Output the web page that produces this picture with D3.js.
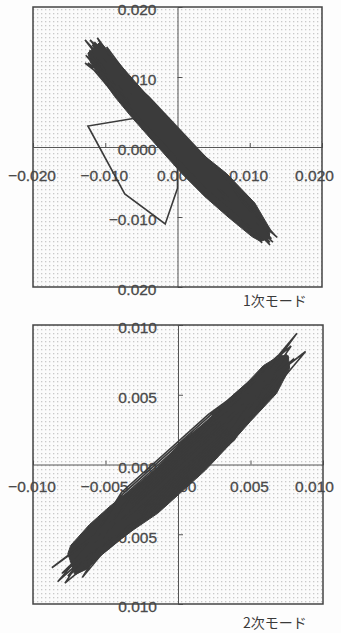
<!DOCTYPE html>
<html>
<head>
<meta charset="utf-8">
<script src="https://cdn.jsdelivr.net/npm/d3@7"></script>
<style>
    body { margin: 0; background: #fdfdfd; }
    svg { display: block; }
</style>
</head>
<body>
<svg id="chart"></svg>
<script>
// Mode 1 trajectory (start transient, then the oscillation band)
const mode1Points = [
    [0, 0], [0.0000, -0.0059], [-0.0017, -0.0110], [-0.0073, -0.0067], [-0.0124, 0.0030], [-0.0059, 0.0041],
    [-0.0124, 0.0120],
    [-0.0046, 0.0066], [0.0054, -0.0044], [0.0105, -0.0110],
    [0.0045, -0.0053], [-0.0055, 0.0057], [-0.0100, 0.0120],
    [-0.0042, 0.0070], [0.0058, -0.0040], [0.0110, -0.0118],
    [0.0041, -0.0057], [-0.0059, 0.0053], [-0.0110, 0.0128],
    [-0.0048, 0.0064], [0.0052, -0.0046], [0.0119, -0.0122],
    [0.0048, -0.0050], [-0.0052, 0.0060], [-0.0113, 0.0133],
    [-0.0044, 0.0068], [0.0056, -0.0042], [0.0125, -0.0125],
    [0.0043, -0.0055], [-0.0057, 0.0055], [-0.0115, 0.0140],
    [-0.0040, 0.0072], [0.0060, -0.0038], [0.0121, -0.0130],
    [0.0040, -0.0058], [-0.0060, 0.0052], [-0.0127, 0.0131],
    [-0.0047, 0.0065], [0.0053, -0.0045], [0.0128, -0.0136],
    [0.0046, -0.0052], [-0.0054, 0.0058], [-0.0118, 0.0146],
    [-0.0043, 0.0069], [0.0057, -0.0041], [0.0130, -0.0131],
    [0.0044, -0.0054], [-0.0056, 0.0056], [-0.0128, 0.0153],
    [-0.0049, 0.0063], [0.0051, -0.0047], [0.0138, -0.0129],
    [0.0049, -0.0049], [-0.0051, 0.0061], [-0.0121, 0.0153],
    [-0.0041, 0.0071], [0.0059, -0.0039], [0.0135, -0.0126],
    [0.0042, -0.0056], [-0.0058, 0.0054], [-0.0107, 0.0150],
    [-0.0045, 0.0067], [0.0055, -0.0043], [0.0117, -0.0137],
    [0.0047, -0.0051], [-0.0053, 0.0059], [-0.0128, 0.0120],
    [-0.0052, 0.0060], [0.0048, -0.0050], [0.0132, -0.0136],
    [0.0053, -0.0045], [-0.0047, 0.0065], [-0.0111, 0.0156],
    [-0.0056, 0.0056], [0.0044, -0.0054], [0.0124, -0.0130],
    [0.0056, -0.0042], [-0.0044, 0.0068], [-0.0098, 0.0143],
    [-0.0059, 0.0053], [0.0041, -0.0057], [0.0118, -0.0123],
    [0.0059, -0.0039], [-0.0041, 0.0071], [-0.0115, 0.0150],
    [-0.0054, 0.0058], [0.0046, -0.0052], [0.0128, -0.0140],
    [0.0055, -0.0043], [-0.0045, 0.0067], [-0.0122, 0.0138],
    [-0.0058, 0.0054], [0.0042, -0.0056], [0.0110, -0.0119],
    [0.0052, -0.0046], [-0.0048, 0.0064], [-0.0105, 0.0135],
    [-0.0050, 0.0062], [0.0050, -0.0048], [0.0100, -0.0100],
    [0.0051, -0.0047], [-0.0049, 0.0063], [-0.0090, 0.0105]
];

// Outline of the area that the dense mode 1 trace fills
const mode1Band = [
    [-0.0107, 0.0150], [-0.0061, 0.0096], [-0.0020, 0.0048], [0.0001, 0.0024], [0.0022, 0.0000],
    [0.0068, -0.0038], [0.0107, -0.0080], [0.0128, -0.0117], [0.0127, -0.0130],
    [0.0115, -0.0135], [0.0103, -0.0128], [0.0070, -0.0100], [0.0038, -0.0071], [0.0006, -0.0038],
    [-0.0027, 0.0000], [-0.0063, 0.0042], [-0.0087, 0.0072], [-0.0120, 0.0120], [-0.0124, 0.0134]
];

// Mode 2 trajectory
const mode2Points = [
    [0, 0], [0.0027, 0.0030], [0.0054, 0.0058],
    [0.0034, 0.0023], [-0.0026, -0.0033], [-0.0055, -0.0058],
    [-0.0036, -0.0023], [0.0024, 0.0033], [0.0060, 0.0063],
    [0.0037, 0.0020], [-0.0023, -0.0036], [-0.0064, -0.0062],
    [-0.0039, -0.0020], [0.0021, 0.0036], [0.0066, 0.0070],
    [0.0039, 0.0018], [-0.0021, -0.0038], [-0.0060, -0.0068],
    [-0.0032, -0.0027], [0.0028, 0.0029], [0.0072, 0.0074],
    [0.0032, 0.0025], [-0.0028, -0.0031], [-0.0072, -0.0070],
    [-0.0035, -0.0024], [0.0025, 0.0032], [0.0075, 0.0079],
    [0.0035, 0.0022], [-0.0025, -0.0034], [-0.0070, -0.0077],
    [-0.0038, -0.0021], [0.0022, 0.0035], [0.0078, 0.0085],
    [0.0036, 0.0021], [-0.0024, -0.0035], [-0.0080, -0.0078],
    [-0.0031, -0.0028], [0.0029, 0.0028], [0.0082, 0.0094],
    [0.0033, 0.0024], [-0.0027, -0.0032], [-0.0083, -0.0084],
    [-0.0034, -0.0025], [0.0026, 0.0031], [0.0088, 0.0081],
    [0.0038, 0.0019], [-0.0022, -0.0037], [-0.0078, -0.0085],
    [-0.0037, -0.0022], [0.0023, 0.0034], [0.0069, 0.0078],
    [0.0031, 0.0026], [-0.0029, -0.0030], [-0.0087, -0.0074],
    [-0.0030, -0.0029], [0.0030, 0.0027], [0.0063, 0.0060],
    [0.0027, 0.0030], [-0.0033, -0.0026], [-0.0066, -0.0081],
    [-0.0027, -0.0032], [0.0033, 0.0024], [0.0070, 0.0072],
    [0.0024, 0.0033], [-0.0036, -0.0023], [-0.0068, -0.0066],
    [-0.0024, -0.0035], [0.0036, 0.0021], [0.0074, 0.0070],
    [0.0021, 0.0036], [-0.0039, -0.0020], [-0.0062, -0.0072],
    [-0.0021, -0.0038], [0.0039, 0.0018], [0.0066, 0.0064],
    [0.0025, 0.0032], [-0.0035, -0.0024], [-0.0074, -0.0072],
    [-0.0025, -0.0034], [0.0035, 0.0022], [0.0080, 0.0076],
    [0.0028, 0.0029], [-0.0032, -0.0027], [-0.0076, -0.0080],
    [-0.0022, -0.0037], [0.0038, 0.0019], [0.0071, 0.0066],
    [0.0022, 0.0035], [-0.0038, -0.0021], [-0.0058, -0.0060],
    [-0.0028, -0.0031], [0.0032, 0.0025], [0.0058, 0.0056],
    [0.0026, 0.0031], [-0.0034, -0.0025], [-0.0050, -0.0052],
    [-0.0026, -0.0033], [0.0034, 0.0023], [0.0050, 0.0047],
    [0.0029, 0.0028], [-0.0031, -0.0028], [-0.0045, -0.0046],
    [0.0042, 0.0036]
];

// Outline of the area that the dense mode 2 trace fills
const mode2Band = [
    [-0.0076, -0.0064], [-0.0074, -0.0058], [-0.0061, -0.0043], [-0.0047, -0.0030], [-0.0031, -0.0017],
    [-0.0014, -0.0002], [0.0003, 0.0017], [0.0020, 0.0031], [0.0034, 0.0046], [0.0048, 0.0059],
    [0.0059, 0.0071], [0.0070, 0.0078], [0.0076, 0.0078],
    [0.0077, 0.0069], [0.0068, 0.0051], [0.0050, 0.0031], [0.0038, 0.0017],
    [0.0019, -0.0004], [0.0001, -0.0021], [-0.0014, -0.0035], [-0.0031, -0.0047], [-0.0040, -0.0054],
    [-0.0054, -0.0066], [-0.0063, -0.0075], [-0.0071, -0.0079]
];

// Axis ticks and labels (as printed)
const mode1Domain = [-0.02, 0.02];
const mode1XTicks = [-0.02, -0.01, 0, 0.01, 0.02];
const mode1XLabels = ["−0.020", "−0.010", "0.000", "0.010", "0.020"];
const mode1YTicks = [0.02, 0.01, 0, -0.01, -0.02];
const mode1YLabels = ["0.020", "0.010", "0.000", "−0.010", "0.020"];
const mode1TickMarks = [-0.01, 0.01];

const mode2Domain = [-0.01, 0.01];
const mode2XTicks = [-0.01, -0.005, 0, 0.005, 0.01];
const mode2XLabels = ["−0.010", "−0.005", "0.000", "0.005", "0.010"];
const mode2YTicks = [0.01, 0.005, 0, -0.005, -0.01];
const mode2YLabels = ["0.010", "0.005", "0.000", "−0.005", "0.010"];
const mode2TickMarks = [-0.005, 0.005];

const modeTitles = ["1次モード", "2次モード"];

let width = 341;
let height = 633;
let ink = "#3b3b3b";

let svg = d3.select("#chart")
    .attr("width", width)
    .attr("height", height);

// Stipple pattern for the plot area
let pattern = svg.append("defs")
    .append("pattern")
    .attr("id", "dots")
    .attr("patternUnits", "userSpaceOnUse")
    .attr("width", 4)
    .attr("height", 4);
pattern.append("rect").attr("width", 4).attr("height", 4).attr("fill", "#fbfbfb");
pattern.append("rect").attr("x", 1).attr("y", 1).attr("width", 1.3).attr("height", 1.3).attr("fill", "#c9c9c9");

function drawPanel(cfg) {
    let x = d3.scaleLinear().domain(cfg.domain).range([cfg.left, cfg.right]);
    let y = d3.scaleLinear().domain(cfg.domain).range([cfg.bottom, cfg.top]);
    let g = svg.append("g");

    g.append("rect")
        .attr("x", cfg.left)
        .attr("y", cfg.top)
        .attr("width", cfg.right - cfg.left)
        .attr("height", cfg.bottom - cfg.top)
        .attr("fill", "url(#dots)");

    // Centre axes with small ticks
    let xAxis = g.append("g")
        .attr("transform", `translate(0,${y(0)})`)
        .call(d3.axisTop(x).tickValues(cfg.marks).tickSize(4).tickFormat(""));
    let yAxis = g.append("g")
        .attr("transform", `translate(${x(0)},0)`)
        .call(d3.axisRight(y).tickValues(cfg.marks).tickSize(5).tickFormat(""));
    [xAxis, yAxis].forEach((a) => {
        a.select(".domain").attr("stroke", "#555").attr("stroke-width", 1);
        a.selectAll(".tick line").attr("stroke", "#555");
    });

    let font = "'Liberation Sans', Arial, sans-serif";

    // y labels, left of the vertical axis
    g.append("g")
        .selectAll("text")
        .data(cfg.yTicks)
        .enter()
        .append("text")
        .attr("x", x(0) - 21)
        .attr("y", (d) => y(d) + 3)
        .attr("dy", "0.35em")
        .attr("text-anchor", "end")
        .style("font-family", font)
        .style("font-size", "15.5px")
        .attr("fill", "#4a4a4a")
        .attr("stroke", "#4a4a4a")
        .attr("stroke-width", 0.3)
        .text((d, i) => cfg.yLabels[i]);

    // x labels, under the horizontal axis
    g.append("g")
        .selectAll("text")
        .data(cfg.xTicks)
        .enter()
        .append("text")
        .attr("x", (d) => Math.min(x(d) - 1, 334 - 19.5))
        .attr("y", y(0) + cfg.xLabelGap)
        .attr("dy", "0.35em")
        .attr("text-anchor", "middle")
        .style("font-family", font)
        .style("font-size", "15.5px")
        .attr("fill", "#4a4a4a")
        .attr("stroke", "#4a4a4a")
        .attr("stroke-width", 0.3)
        .text((d, i) => cfg.xLabels[i]);

    // Dense band of the trace
    g.append("path")
        .datum(cfg.band)
        .attr("fill", ink)
        .attr("stroke", ink)
        .attr("stroke-width", 1)
        .attr("d", d3.line().x((d) => x(d[0])).y((d) => y(d[1])).curve(d3.curveLinearClosed));

    // Trajectory
    g.append("path")
        .datum(cfg.points)
        .attr("fill", "none")
        .attr("stroke", ink)
        .attr("stroke-width", 1.6)
        .attr("d", d3.line().x((d) => x(d[0])).y((d) => y(d[1])));

    // Frame
    g.append("rect")
        .attr("x", cfg.left)
        .attr("y", cfg.top)
        .attr("width", cfg.right - cfg.left)
        .attr("height", cfg.bottom - cfg.top)
        .attr("fill", "none")
        .attr("stroke", "#444")
        .attr("stroke-width", 1.5);

    g.append("text")
        .attr("x", 243)
        .attr("y", cfg.titleY)
        .attr("dy", "0.35em")
        .style("font-family", "'Noto Sans CJK JP', sans-serif")
        .style("font-size", "14px")
        .attr("fill", "#3a3a3a")
        .text(cfg.title);
}

drawPanel({
    domain: mode1Domain, left: 33, right: 322, top: 7, bottom: 287,
    xTicks: mode1XTicks, xLabels: mode1XLabels, yTicks: mode1YTicks, yLabels: mode1YLabels,
    marks: mode1TickMarks, xLabelGap: 29, points: mode1Points, band: mode1Band,
    title: modeTitles[0], titleY: 301
});

drawPanel({
    domain: mode2Domain, left: 33, right: 323, top: 325, bottom: 604,
    xTicks: mode2XTicks, xLabels: mode2XLabels, yTicks: mode2YTicks, yLabels: mode2YLabels,
    marks: mode2TickMarks, xLabelGap: 22, points: mode2Points, band: mode2Band,
    title: modeTitles[1], titleY: 623
});
</script>
</body>
</html>
